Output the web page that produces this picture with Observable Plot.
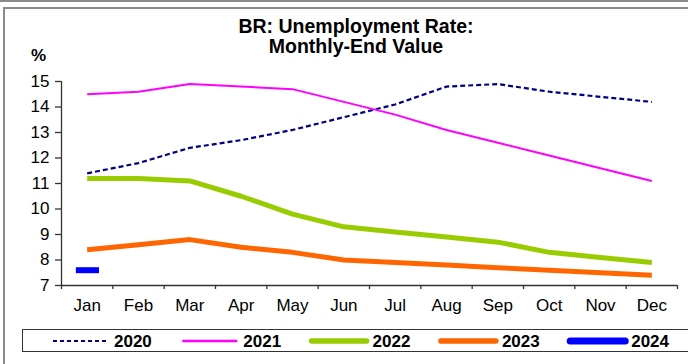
<!DOCTYPE html>
<html>
<head>
<meta charset="utf-8">
<script src="https://cdn.jsdelivr.net/npm/d3@7"></script>
<script src="https://cdn.jsdelivr.net/npm/@observablehq/plot@0.6"></script>
<style>
  html, body { margin: 0; padding: 0; background: #fff; }
  #wrap { position: relative; width: 688px; height: 364px; overflow: hidden; font-family: "Liberation Sans", Arial, sans-serif; }
  #topline { position: absolute; left: 0; top: 0; width: 688px; height: 0; border-top: 2px solid #8a8a8a; }
  #frame { position: absolute; left: 3px; top: 7px; width: 720px; height: 400px; border: 2px solid #8a8a8a; box-sizing: border-box; }
  #title { position: absolute; left: 156px; width: 400px; top: 16px; text-align: center; font-weight: bold; font-size: 19.5px; line-height: 20px; color: #000; }
  #unit { position: absolute; left: 31px; top: 46px; font-weight: bold; font-size: 17px; color: #000; }
  #chart { position: absolute; left: 0; top: 60px; }
  #legend { position: absolute; left: 22px; top: 329px; width: 700px; height: 23px; border: 1.5px solid #333; box-sizing: border-box; }
  #legend svg { position: absolute; left: 0; top: 0; }
</style>
</head>
<body>
<div id="wrap">
  <div id="topline"></div>
  <div id="frame"></div>
  <div id="title">BR: Unemployment Rate:<br>Monthly-End Value</div>
  <div id="unit">%</div>
  <div id="chart"></div>
  <div id="legend"></div>
</div>
<script>
const months = ["Jan","Feb","Mar","Apr","May","Jun","Jul","Aug","Sep","Oct","Nov","Dec"];
const yTicks = [7, 8, 9, 10, 11, 12, 13, 14, 15];
const years = ["2020","2021","2022","2023","2024"];
const v2020 = [11.4, 11.8, 12.4, 12.7, 13.1, 13.6, 14.1, 14.8, 14.9, 14.6, 14.4, 14.2];
const v2021 = [14.5, 14.6, 14.9, 14.8, 14.7, 14.2, 13.7, 13.1, 12.6, 12.1, 11.6, 11.1];
const v2022 = [11.2, 11.2, 11.1, 10.5, 9.8, 9.3, 9.1, 8.9, 8.7, 8.3, 8.1, 7.9];
const v2023 = [8.4, 8.6, 8.8, 8.5, 8.3, 8.0, 7.9, 7.8, 7.7, 7.6, 7.5, 7.4];
const v2024 = [7.6];

const values = {"2020": v2020, "2021": v2021, "2022": v2022, "2023": v2023, "2024": v2024};
const styles = {
  "2020": {stroke: "#000080", width: 2.2, dash: "5,3", lw: 2, ldash: "4,3"},
  "2021": {stroke: "#ff00ff", width: 2, dash: null, lw: 2.5, ldash: null},
  "2022": {stroke: "#99cc00", width: 5, dash: null, lw: 5.5, ldash: null},
  "2023": {stroke: "#ff6600", width: 5, dash: null, lw: 5.5, ldash: null},
  "2024": {stroke: "#0000ff", width: 6, dash: null, lw: 7, ldash: null}
};

const rows = [];
for (const y of years) values[y].forEach((v, i) => rows.push({year: y, i, month: months[i], value: v}));

const lineMarks = ["2020","2021","2022","2023"].map(y =>
  Plot.line(rows.filter(d => d.year === y), {
    x: "i", y: "value", stroke: styles[y].stroke, strokeWidth: styles[y].width,
    strokeDasharray: styles[y].dash, strokeLinejoin: "round", strokeLinecap: "butt"
  })
);

const chart = Plot.plot({
  width: 688,
  height: 260,
  marginTop: 21,
  marginBottom: 35,
  marginLeft: 61,
  marginRight: 11,
  style: {fontFamily: "Liberation Sans, Arial, sans-serif", background: "transparent"},
  x: {type: "linear", domain: [-0.5, months.length - 0.5]},
  y: {domain: [7, 15]},
  marks: [
    Plot.axisY({ticks: yTicks, tickSize: 6, tickPadding: 6, fontSize: 17, stroke: "#333", strokeWidth: 1.3, color: "#000", label: null}),
    Plot.axisX({ticks: d3.range(-0.5, months.length, 1), tickSize: 4, tickFormat: () => "", stroke: "#333", strokeWidth: 1.3, label: null}),
    Plot.axisX({ticks: d3.range(months.length), tickSize: 0, tickPadding: 13, fontSize: 17, tickFormat: i => months[i], color: "#000", label: null}),
    Plot.ruleX([-0.5], {stroke: "#333", strokeWidth: 1.3}),
    Plot.ruleY([7], {stroke: "#333", strokeWidth: 1.3}),
    ...lineMarks,
    Plot.link(rows.filter(d => d.year === "2024"), {
      x1: d => d.i - 0.22, x2: d => d.i + 0.23, y1: "value", y2: "value",
      stroke: styles["2024"].stroke, strokeWidth: styles["2024"].width, strokeLinecap: "butt"
    })
  ]
});
document.getElementById("chart").appendChild(chart);

// Legend
const lg = d3.select("#legend").append("svg").attr("width", 700).attr("height", 22);
years.forEach((y, k) => {
  const x0 = 30 + k * 129.3;
  const s = styles[y];
  lg.append("line")
    .attr("x1", x0).attr("x2", x0 + 55).attr("y1", 11).attr("y2", 11)
    .attr("stroke", s.stroke).attr("stroke-width", s.lw)
    .attr("stroke-dasharray", s.ldash)
    .attr("stroke-linecap", (y === "2020" || y === "2021") ? "butt" : "round");
  lg.append("text")
    .attr("x", x0 + 61).attr("y", 17)
    .attr("font-family", "Liberation Sans, Arial, sans-serif")
    .attr("font-weight", "bold").attr("font-size", 17)
    .attr("fill", "#000")
    .text(y);
});
</script>
</body>
</html>
